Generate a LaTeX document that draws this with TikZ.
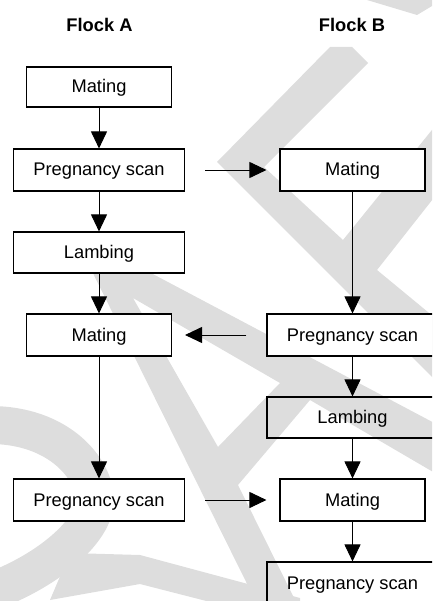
\documentclass[tikz,border=0pt]{standalone}
\usepackage{fontspec}
\setmainfont{Liberation Sans}
\usetikzlibrary{arrows.meta}
\definecolor{wm}{RGB}{221,221,221}
\tikzset{
  box/.style={draw=black, line width=1.1pt, fill=white, inner sep=0pt,
    text height=13pt, text depth=1pt, font=\fontsize{18.3}{22}\selectfont},
  clearbox/.style={box, fill=none},
  narrow/.style={minimum width=145pt, minimum height=42pt},
  wide/.style={minimum width=171pt, minimum height=42pt},
  title/.style={font=\bfseries\fontsize{18.3}{22}\selectfont, anchor=base, inner sep=0pt},
  arr/.style={line width=0.9pt, -{Triangle[length=17pt,width=16pt]}},
  wmark/.style={fill=wm, draw=none}
}
\begin{document}
\begin{tikzpicture}[x=1pt, y=-1pt]
\useasboundingbox (0,0) rectangle (432,601);
\clip (0,0) rectangle (432,601);
% watermark
\fill[wmark] (367,0) -- (432,0) -- (432,6) -- (417,15) -- cycle;
\fill[wmark] (330,47) -- (352,47) -- (368,63) -- (264,167) -- (343,240) -- (440,120)
  -- (440,190) -- (377,270) -- (440,322) -- (440,385) -- (217,162) -- cycle;
\fill[wmark, even odd rule] (79,245) -- (98,245) -- (440,426) -- (440,476) -- (310,400)
  -- (238,485) -- (301,612) -- (261,612) -- cycle
  (133,298) -- (280,383) -- (218,447) -- cycle;
\draw[wm, line width=38pt] (-10,425) .. controls (60,425) and (95,470) .. (95,500)
  .. controls (95,530) and (50,570) .. (-10,592);
\fill[wmark] (70,553) -- (140,555) -- (300,598) -- (300,625) -- (140,584) -- (50,600) -- cycle;
% titles
\node[title] (ta) at (99.5,31.7) {Flock A};
\node[title] (tb) at (352,31.7) {Flock B};
% flock A
\node[box,narrow,minimum height=40pt] (a1) at (99,87) {Mating};
\node[box,wide] (a2) at (99,170) {Pregnancy scan};
\node[box,wide,minimum height=41pt] (a3) at (99,252.5) {Lambing};
\node[box,narrow] (a4) at (99,335) {Mating};
\node[box,wide] (a5) at (99,500) {Pregnancy scan};
% flock B
\node[box,narrow] (b1) at (352.5,170) {Mating};
\node[box,wide] (b2) at (352.5,335) {Pregnancy scan};
\node[clearbox,wide,minimum height=41pt] (b3) at (352.5,417.5) {Lambing};
\node[box,narrow] (b4) at (352.5,500) {Mating};
\node[clearbox,wide] (b5) at (352.5,583) {Pregnancy scan};
% arrows
\draw[arr] (a1) -- (a2);
\draw[arr] (a2) -- (a3);
\draw[arr] (a3) -- (a4);
\draw[arr] (a4) -- (a5);
\draw[arr] (b1) -- (b2);
\draw[arr] (b2) -- (b3);
\draw[arr] (b3) -- (b4);
\draw[arr] (b4) -- (b5);
\draw[arr] ([xshift=20pt]a2.east) -- ([xshift=-13pt]b1.west);
\draw[arr] ([xshift=-20pt]b2.west) -- ([xshift=13pt]a4.east);
\draw[arr] ([xshift=20pt]a5.east) -- ([xshift=-13pt]b4.west);
\end{tikzpicture}
\end{document}
